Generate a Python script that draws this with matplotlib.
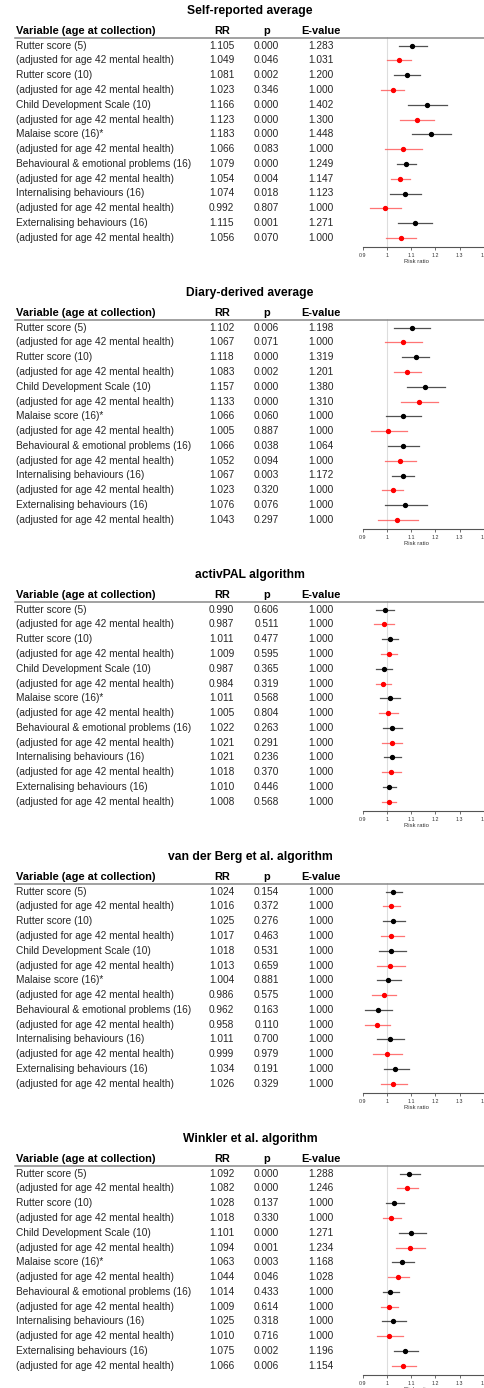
import matplotlib
matplotlib.use('Agg')
import matplotlib.pyplot as plt
from matplotlib.lines import Line2D
from matplotlib.transforms import blended_transform_factory

plt.rcParams['font.family'] = ['Liberation Sans', 'DejaVu Sans']

################################################################################
# DATA

labels = [
    'Rutter score (5)',
    '(adjusted for age 42 mental health)',
    'Rutter score (10)',
    '(adjusted for age 42 mental health)',
    'Child Development Scale (10)',
    '(adjusted for age 42 mental health)',
    'Malaise score (16)*',
    '(adjusted for age 42 mental health)',
    'Behavioural & emotional problems (16)',
    '(adjusted for age 42 mental health)',
    'Internalising behaviours (16)',
    '(adjusted for age 42 mental health)',
    'Externalising behaviours (16)',
    '(adjusted for age 42 mental health)',
]

titles = [
    'Self-reported average',
    'Diary-derived average',
    'activPAL algorithm',
    'van der Berg et al. algorithm',
    'Winkler et al. algorithm',
]

rr_self = [1.105, 1.049, 1.081, 1.023, 1.166, 1.123, 1.183, 1.066, 1.079, 1.054, 1.074, 0.992, 1.115, 1.056]
p_self = [0.000, 0.046, 0.002, 0.346, 0.000, 0.000, 0.000, 0.083, 0.000, 0.004, 0.018, 0.807, 0.001, 0.070]
e_self = [1.283, 1.031, 1.200, 1.000, 1.402, 1.300, 1.448, 1.000, 1.249, 1.147, 1.123, 1.000, 1.271, 1.000]
lo_self = [1.049, 1.001, 1.027, 0.975, 1.088, 1.055, 1.104, 0.992, 1.041, 1.015, 1.011, 0.932, 1.047, 0.995]
hi_self = [1.164, 1.100, 1.137, 1.071, 1.247, 1.195, 1.263, 1.145, 1.121, 1.093, 1.140, 1.058, 1.186, 1.121]

rr_diary = [1.102, 1.067, 1.118, 1.083, 1.157, 1.133, 1.066, 1.005, 1.066, 1.052, 1.067, 1.023, 1.076, 1.043]
p_diary = [0.006, 0.071, 0.000, 0.002, 0.000, 0.000, 0.060, 0.887, 0.038, 0.094, 0.003, 0.320, 0.076, 0.297]
e_diary = [1.198, 1.000, 1.319, 1.201, 1.380, 1.310, 1.000, 1.000, 1.064, 1.000, 1.172, 1.000, 1.000, 1.000]
lo_diary = [1.027, 0.992, 1.060, 1.027, 1.082, 1.058, 0.997, 0.934, 1.004, 0.992, 1.022, 0.978, 0.992, 0.964]
hi_diary = [1.178, 1.145, 1.175, 1.140, 1.238, 1.211, 1.140, 1.082, 1.131, 1.118, 1.112, 1.068, 1.164, 1.129]

rr_pal = [0.990, 0.987, 1.011, 1.009, 0.987, 0.984, 1.011, 1.005, 1.022, 1.021, 1.021, 1.018, 1.010, 1.008]
p_pal = [0.606, 0.511, 0.477, 0.595, 0.365, 0.319, 0.568, 0.804, 0.263, 0.291, 0.236, 0.370, 0.446, 0.568]
e_pal = [1.000] * 14
lo_pal = [0.953, 0.948, 0.981, 0.975, 0.956, 0.953, 0.973, 0.967, 0.984, 0.981, 0.986, 0.978, 0.984, 0.981]
hi_pal = [1.027, 1.027, 1.044, 1.041, 1.019, 1.016, 1.052, 1.047, 1.063, 1.063, 1.057, 1.057, 1.038, 1.036]

rr_vdb = [1.024, 1.016, 1.025, 1.017, 1.018, 1.013, 1.004, 0.986, 0.962, 0.958, 1.011, 0.999, 1.034, 1.026]
p_vdb = [0.154, 0.372, 0.276, 0.463, 0.531, 0.659, 0.881, 0.575, 0.163, 0.110, 0.700, 0.979, 0.191, 0.329]
e_vdb = [1.000] * 14
lo_vdb = [0.994, 0.983, 0.983, 0.975, 0.967, 0.958, 0.958, 0.939, 0.911, 0.911, 0.958, 0.944, 0.986, 0.975]
hi_vdb = [1.061, 1.053, 1.075, 1.072, 1.078, 1.075, 1.056, 1.039, 1.019, 1.011, 1.069, 1.061, 1.092, 1.083]

rr_wink = [1.092, 1.082, 1.028, 1.018, 1.101, 1.094, 1.063, 1.044, 1.014, 1.009, 1.025, 1.010, 1.075, 1.066]
p_wink = [0.000, 0.000, 0.137, 0.330, 0.000, 0.001, 0.003, 0.046, 0.433, 0.614, 0.318, 0.716, 0.002, 0.006]
e_wink = [1.288, 1.246, 1.000, 1.000, 1.271, 1.234, 1.168, 1.028, 1.000, 1.000, 1.000, 1.000, 1.196, 1.154]
lo_wink = [1.054, 1.042, 0.994, 0.983, 1.050, 1.039, 1.022, 1.003, 0.983, 0.975, 0.981, 0.961, 1.031, 1.019]
hi_wink = [1.136, 1.128, 1.069, 1.058, 1.161, 1.158, 1.111, 1.092, 1.050, 1.047, 1.078, 1.067, 1.128, 1.119]

ticks = [0.9, 1.0, 1.1, 1.2, 1.3, 1.4]
tick_labels = ['0.9', '1', '1.1', '1.2', '1.3', '1.4']

panels = [
    (rr_self, p_self, e_self, lo_self, hi_self),
    (rr_diary, p_diary, e_diary, lo_diary, hi_diary),
    (rr_pal, p_pal, e_pal, lo_pal, hi_pal),
    (rr_vdb, p_vdb, e_vdb, lo_vdb, hi_vdb),
    (rr_wink, p_wink, e_wink, lo_wink, hi_wink),
]

################################################################################
# LAYOUT (pixels, top-left origin)

W, H = 484, 1388
fig = plt.figure(figsize=(W / 100, H / 100), dpi=100)


def fx(x):
    return x / W


def fy(y):
    return 1 - y / H


panel_step = 282
row0, row_step = 45.7, 14.78
ax_left, ax_top, ax_bottom = 362.7, 37.0, 246.8
col_label, col_rr, col_p, col_e = 16, 221.7, 266.5, 321.3
txt_color = '#262626'
body_size = 7.3
head_size = 7.9

for k, (title, (rr, p, e, lo, hi)) in enumerate(zip(titles, panels)):
    off = panel_step * k
    ax = fig.add_axes([fx(ax_left), fy(off + ax_bottom),
                       fx(W - ax_left), (ax_bottom - ax_top) / H])
    ax.set_xlim(0.9, 1.4)
    ax.set_ylim((ax_bottom - row0) / row_step, (ax_top - row0) / row_step)
    for side in ['top', 'right', 'left']:
        ax.spines[side].set_visible(False)
    ax.spines['bottom'].set_color('#555555')
    ax.spines['bottom'].set_linewidth(0.8)
    ax.set_yticks([])
    ax.set_xticks(ticks)
    ax.set_xticklabels(tick_labels)
    ax.tick_params(axis='x', length=2.5, width=0.6, pad=2, labelsize=3.8,
                   colors='#555555', labelcolor='#333333')
    ax.set_xlabel('Risk ratio', fontsize=4.2, color='#333333')
    ax.xaxis.set_label_coords((416.7 - ax_left) / (W - ax_left), -0.056)
    ax.axvline(1.0, color='#dddddd', linewidth=0.8, zorder=0)

    rows = list(range(len(rr)))
    for i in rows:
        adjusted = i % 2 == 1
        lc = '#ff5c5c' if adjusted else '#333333'
        mc = '#ff0000' if adjusted else '#000000'
        ax.plot([lo[i], hi[i]], [i, i], color=lc, linewidth=0.9, alpha=0.85)
        ax.plot(rr[i], i, 'o', color=mc, markersize=2.8)

    tr = blended_transform_factory(fig.transFigure, ax.transData)
    for i, lab in enumerate(labels):
        ax.text(fx(col_label), i, lab, transform=tr, ha='left', va='center',
                fontsize=body_size, color=txt_color, clip_on=False)
        ax.text(fx(col_rr), i, f'{rr[i]:.3f}', transform=tr, ha='center',
                va='center', fontsize=body_size, color=txt_color, clip_on=False)
        ax.text(fx(col_p), i, f'{p[i]:.3f}', transform=tr, ha='center',
                va='center', fontsize=body_size, color=txt_color, clip_on=False)
        ax.text(fx(col_e), i, f'{e[i]:.3f}', transform=tr, ha='center',
                va='center', fontsize=body_size, color=txt_color, clip_on=False)

    # header and title
    hy = fy(off + 31.5)
    fig.text(fx(col_label), hy, 'Variable (age at collection)', ha='left',
             va='center', fontsize=head_size, fontweight='bold')
    fig.text(fx(col_rr), hy, 'RR', ha='center', va='center',
             fontsize=head_size, fontweight='bold')
    fig.text(fx(col_p), hy, 'p', ha='center', va='center',
             fontsize=head_size, fontweight='bold')
    fig.text(fx(col_e), hy, 'E-value', ha='center', va='center',
             fontsize=head_size, fontweight='bold')
    fig.add_artist(Line2D([fx(15), 1.0], [fy(off + 37.5)] * 2,
                          color='#888888', linewidth=1.1))
    fig.text(fx(250), fy(off + 11), title, ha='center', va='center',
             fontsize=8.7, fontweight='bold')

fig.savefig('out.png', dpi=100)
